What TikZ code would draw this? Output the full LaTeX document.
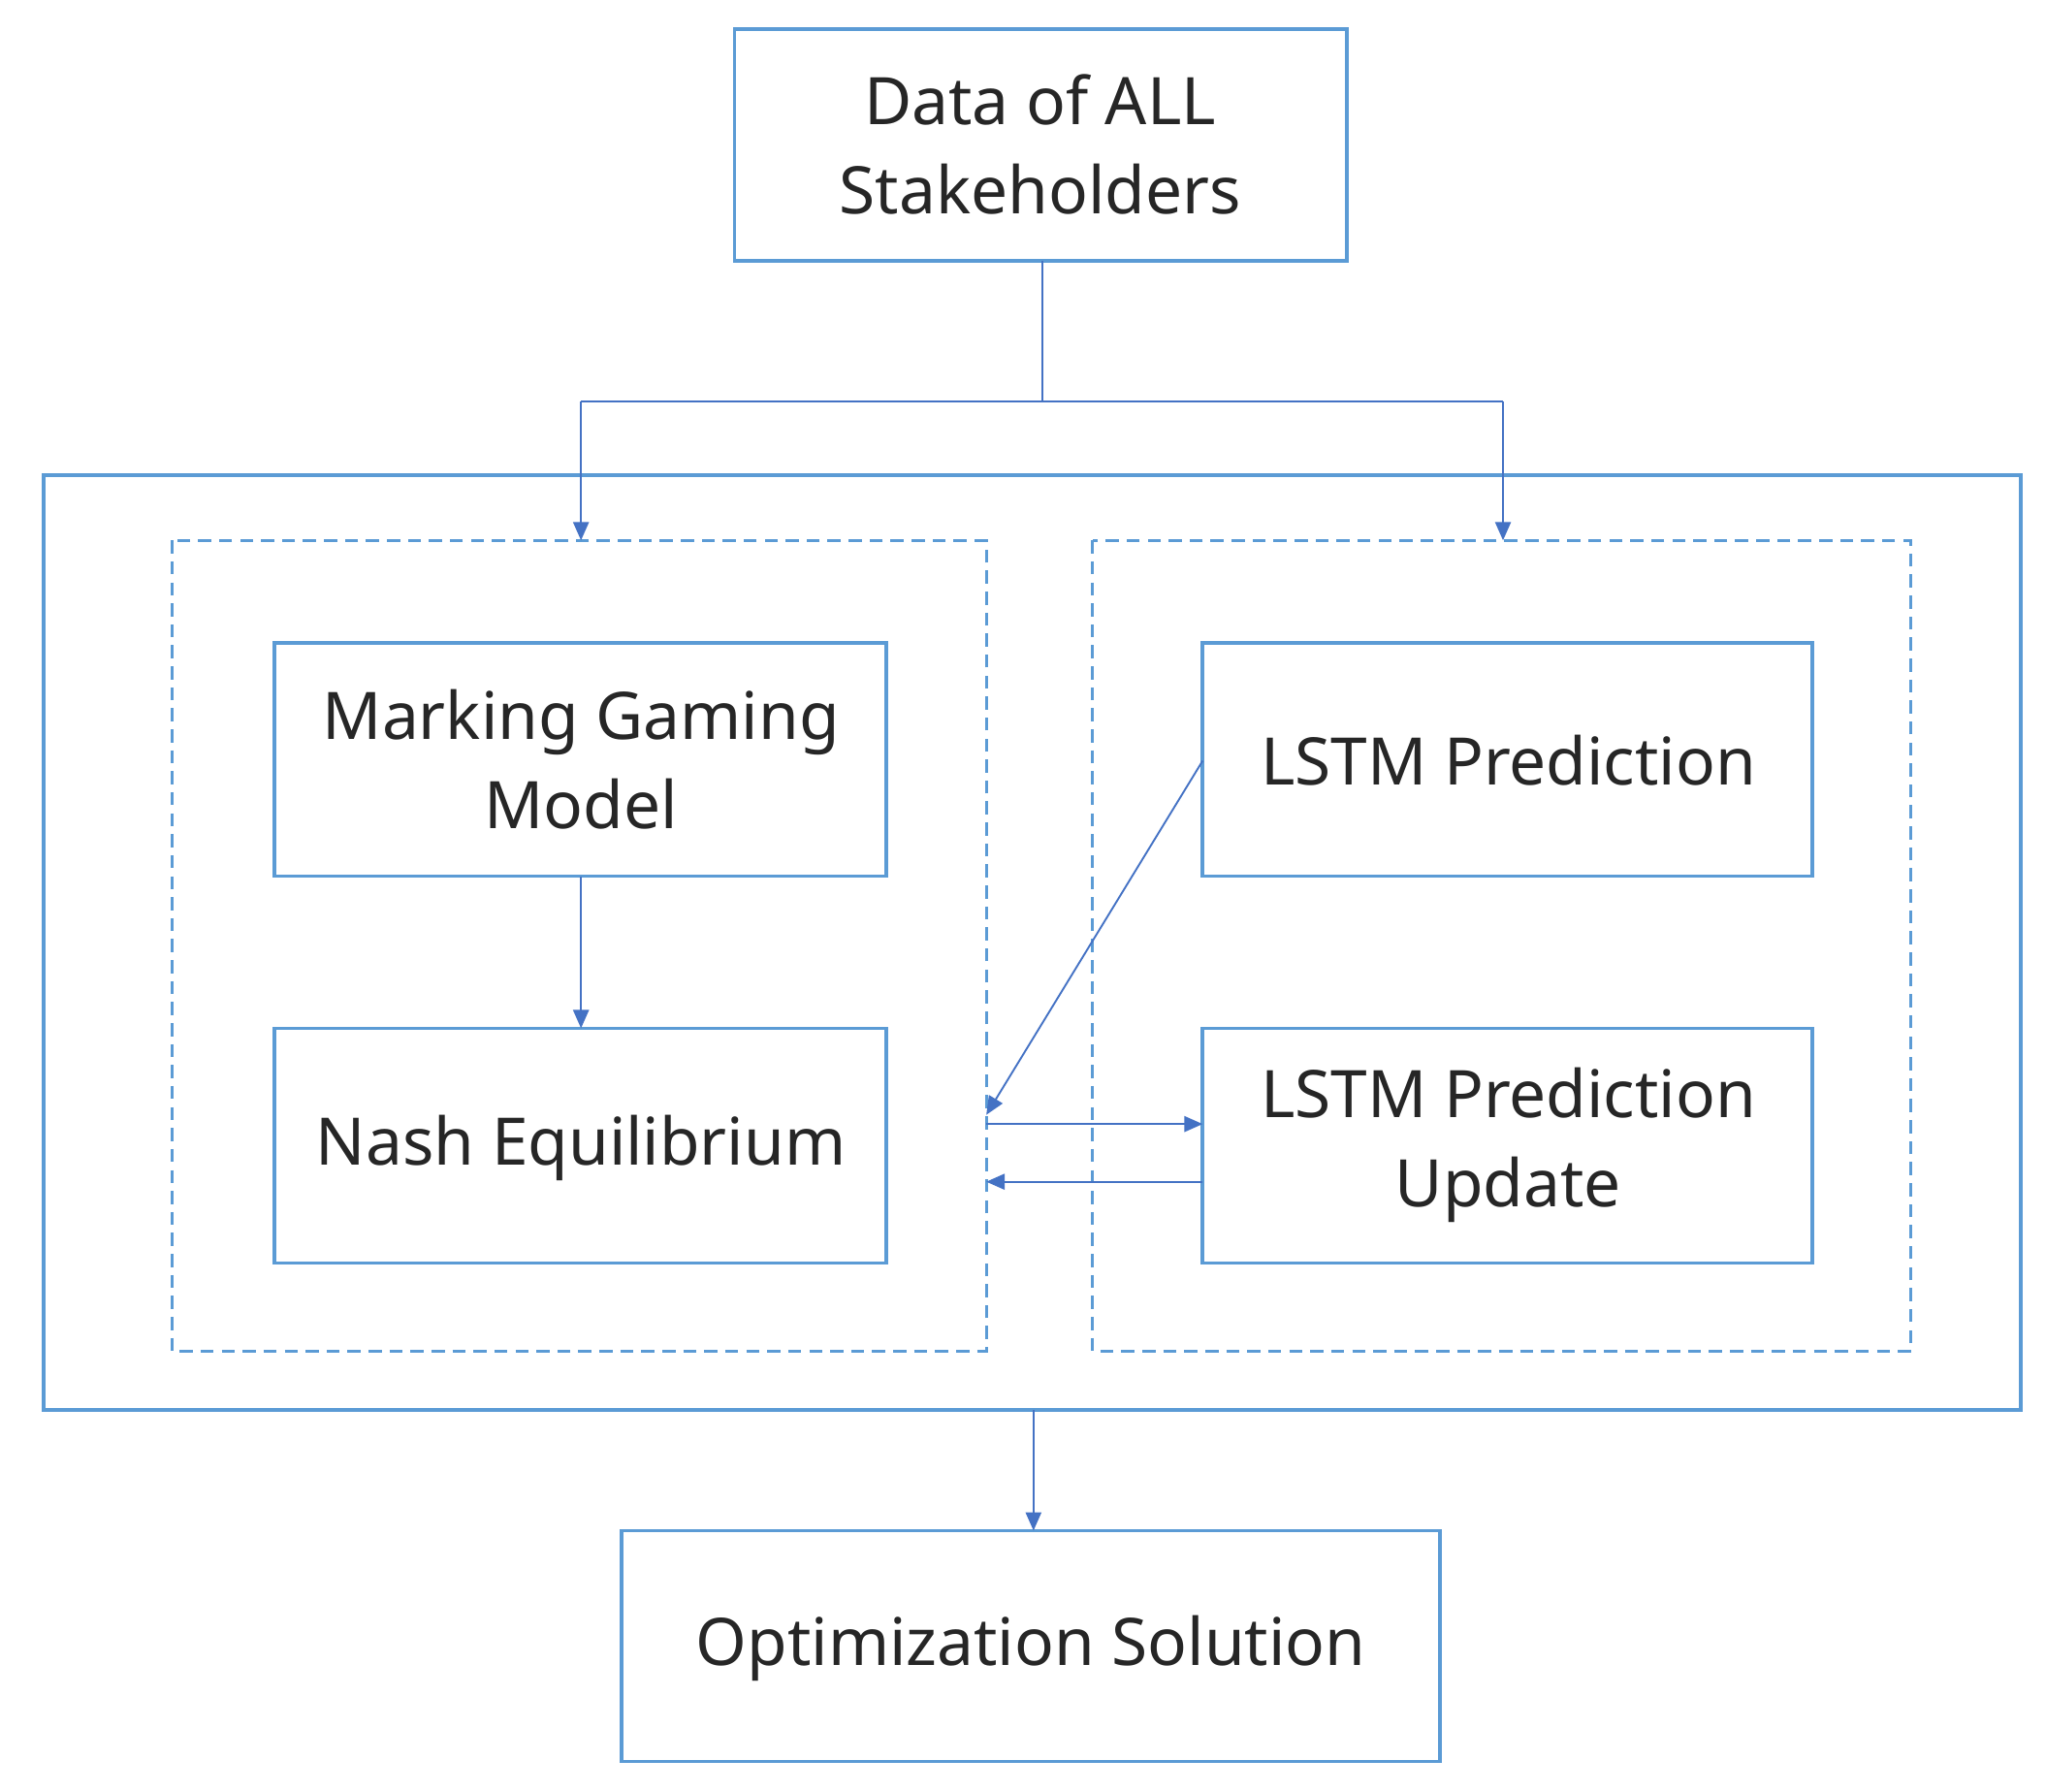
\documentclass[tikz,border=0pt]{standalone}
\usepackage{fontspec}
\setmainfont{Noto Sans}
\usetikzlibrary{arrows.meta}
\definecolor{boxc}{RGB}{91,155,213}
\definecolor{arrc}{RGB}{68,114,196}
\begin{document}
\begin{tikzpicture}[x=0.5pt,y=-0.5pt,
 box/.style={draw=boxc,line width=1.4pt},
 dbox/.style={draw=boxc,line width=1.2pt,dash pattern=on 5pt off 3pt},
 lbl/.style={font=\fontsize{25}{34}\selectfont,align=center,text=black!85},
 arr/.style={draw=arrc,line width=0.7pt,-{Triangle[length=7pt,width=6pt]}},
 ln/.style={draw=arrc,line width=0.7pt}]
\useasboundingbox (0,0) rectangle (1560,1366);
\draw[box] (560,22) rectangle (1027,199);
\node[lbl] (data) at (793,110) {Data of ALL\\Stakeholders};
\draw[box] (33,362) rectangle (1541,1075);
\draw[dbox] (131,412) rectangle (752,1030);
\draw[dbox] (833,412) rectangle (1457,1030);
\draw[box] (209,490) rectangle (676,668);
\node[lbl] (mgm) at (443,579) {Marking Gaming\\Model};
\draw[box] (209,784) rectangle (676,963);
\node[lbl] (nash) at (443,875) {Nash Equilibrium};
\draw[box] (917,490) rectangle (1382,668);
\node[lbl] (lp) at (1150,580) {LSTM Prediction};
\draw[box] (917,784) rectangle (1382,963);
\node[lbl] (lpu) at (1150,873) {LSTM Prediction\\Update};
\draw[box] (474,1167) rectangle (1098,1343);
\node[lbl] (opt) at (786,1257) {Optimization Solution};
\coordinate (d0) at (795,199);
\coordinate (d1) at (795,306);
\coordinate (l1) at (443,306);
\coordinate (r1) at (1146,306);
\coordinate (l2) at (443,412);
\coordinate (r2) at (1146,412);
\draw[ln] (d0) -- (d1);
\draw[ln] (l1) -- (r1);
\draw[arr] (l1) -- (l2);
\draw[arr] (r1) -- (r2);
\coordinate (m0) at (443,668);
\coordinate (m1) at (443,784);
\draw[arr] (m0) -- (m1);
\coordinate (p0) at (917,580);
\coordinate (p1) at (752,850);
\draw[arr] (p0) -- (p1);
\coordinate (a0) at (752,857);
\coordinate (a1) at (917,857);
\draw[arr] (a0) -- (a1);
\coordinate (b0) at (917,901);
\coordinate (b1) at (752,901);
\draw[arr] (b0) -- (b1);
\coordinate (o0) at (788,1075);
\coordinate (o1) at (788,1167);
\draw[arr] (o0) -- (o1);
\end{tikzpicture}
\end{document}
